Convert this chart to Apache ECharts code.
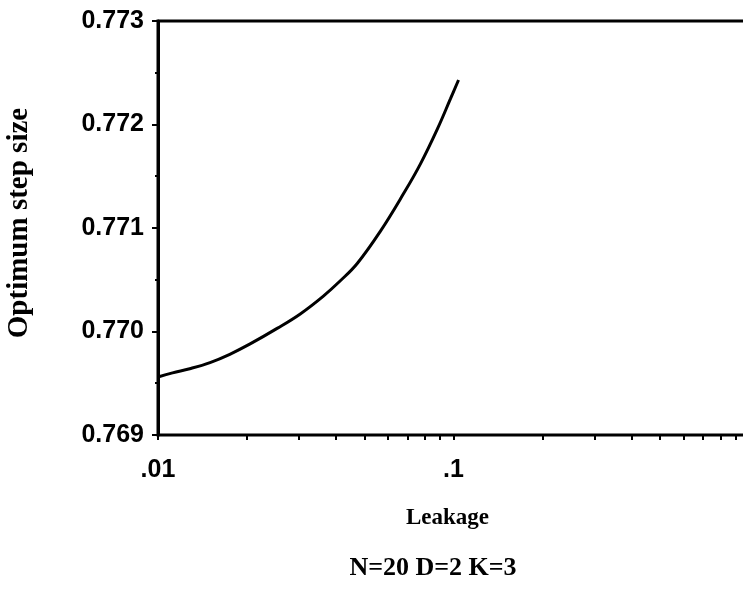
<!DOCTYPE html>
<html>
<head>
<meta charset="utf-8">
<script src="https://cdn.jsdelivr.net/npm/echarts@6.0.0/dist/echarts.min.js"></script>
<style>
  html, body { margin: 0; padding: 0; background: #fff; }
  #chart { width: 743px; height: 590px; }
</style>
</head>
<body>
<div id="chart"></div>
<script>
// values
const leakage = [0.01, 0.0112, 0.0128, 0.015, 0.0175, 0.0205, 0.0253, 0.0303, 0.0362,
  0.0414, 0.0473, 0.0566, 0.0677, 0.0773, 0.0883, 0.0977, 0.104];
const stepSize = [0.76956, 0.7696, 0.76964, 0.7697, 0.76978, 0.76988, 0.77003, 0.77017, 0.77034,
  0.77049, 0.77066, 0.77097, 0.77133, 0.77162, 0.77196, 0.77225, 0.77243];

const xTickValues = [0.01, 0.02, 0.03, 0.04, 0.05, 0.06, 0.07, 0.08, 0.09,
  0.1, 0.2, 0.3, 0.4, 0.5, 0.6, 0.7, 0.8, 0.9, 1];
const xLabelValues = [0.01, 0.1, 1];
const xLabelText = ['.01', '.1', '1'];

const sans = "'Liberation Sans', Arial, sans-serif";
const serif = "'Liberation Serif', 'Times New Roman', serif";

const chart = echarts.init(document.getElementById('chart'));

chart.setOption({
  animation: false,
  grid: {
    left: 158,
    top: 21,
    width: 591,
    height: 414,
    show: true,
    borderColor: '#000',
    borderWidth: 3,
    containLabel: false,
    outerBoundsMode: 'none'
  },
  xAxis: {
    type: 'log',
    logBase: 10,
    min: 0.01,
    max: 1,
    name: 'Leakage',
    nameLocation: 'middle',
    nameGap: 72,
    nameTextStyle: { fontFamily: serif, fontWeight: 'bold', fontSize: 23, color: '#000', padding: [0, 12, 0, 0] },
    axisLine: { lineStyle: { color: '#000', width: 2 } },
    axisTick: {
      customValues: xTickValues,
      length: 5,
      lineStyle: { color: '#000', width: 2 }
    },
    axisLabel: {
      customValues: xLabelValues,
      formatter: (v) => xLabelText[xLabelValues.indexOf(v)] ?? '',
      fontFamily: sans,
      fontWeight: 'bold',
      fontSize: 25,
      color: '#000',
      margin: 23
    },
    splitLine: { show: false }
  },
  yAxis: {
    type: 'value',
    min: 0.769,
    max: 0.773,
    interval: 0.001,
    name: 'Optimum step size',
    nameLocation: 'middle',
    nameGap: 124,
    nameTextStyle: { fontFamily: serif, fontWeight: 'bold', fontSize: 29, color: '#000', padding: [0, 0, 0, 10] },
    axisLine: { show: true, lineStyle: { color: '#000', width: 3 } },
    axisTick: { show: true, length: 6, lineStyle: { color: '#000', width: 2 } },
    minorTick: { show: true, splitNumber: 2, length: 3, lineStyle: { color: '#000', width: 2 } },
    axisLabel: {
      formatter: (v) => v.toFixed(3),
      fontFamily: sans,
      fontWeight: 'bold',
      fontSize: 25,
      color: '#000',
      margin: 14
    },
    splitLine: { show: false }
  },
  graphic: [{
    type: 'text',
    x: 433,
    y: 568,
    style: {
      text: 'N=20 D=2 K=3',
      font: "bold 26px " + serif,
      fill: '#000',
      textAlign: 'center',
      textVerticalAlign: 'middle'
    }
  }],
  series: [{
    type: 'line',
    data: leakage.map((x, i) => [x, stepSize[i]]),
    smooth: 0.4,
    showSymbol: false,
    lineStyle: { color: '#000', width: 3 }
  }]
});
</script>
</body>
</html>
